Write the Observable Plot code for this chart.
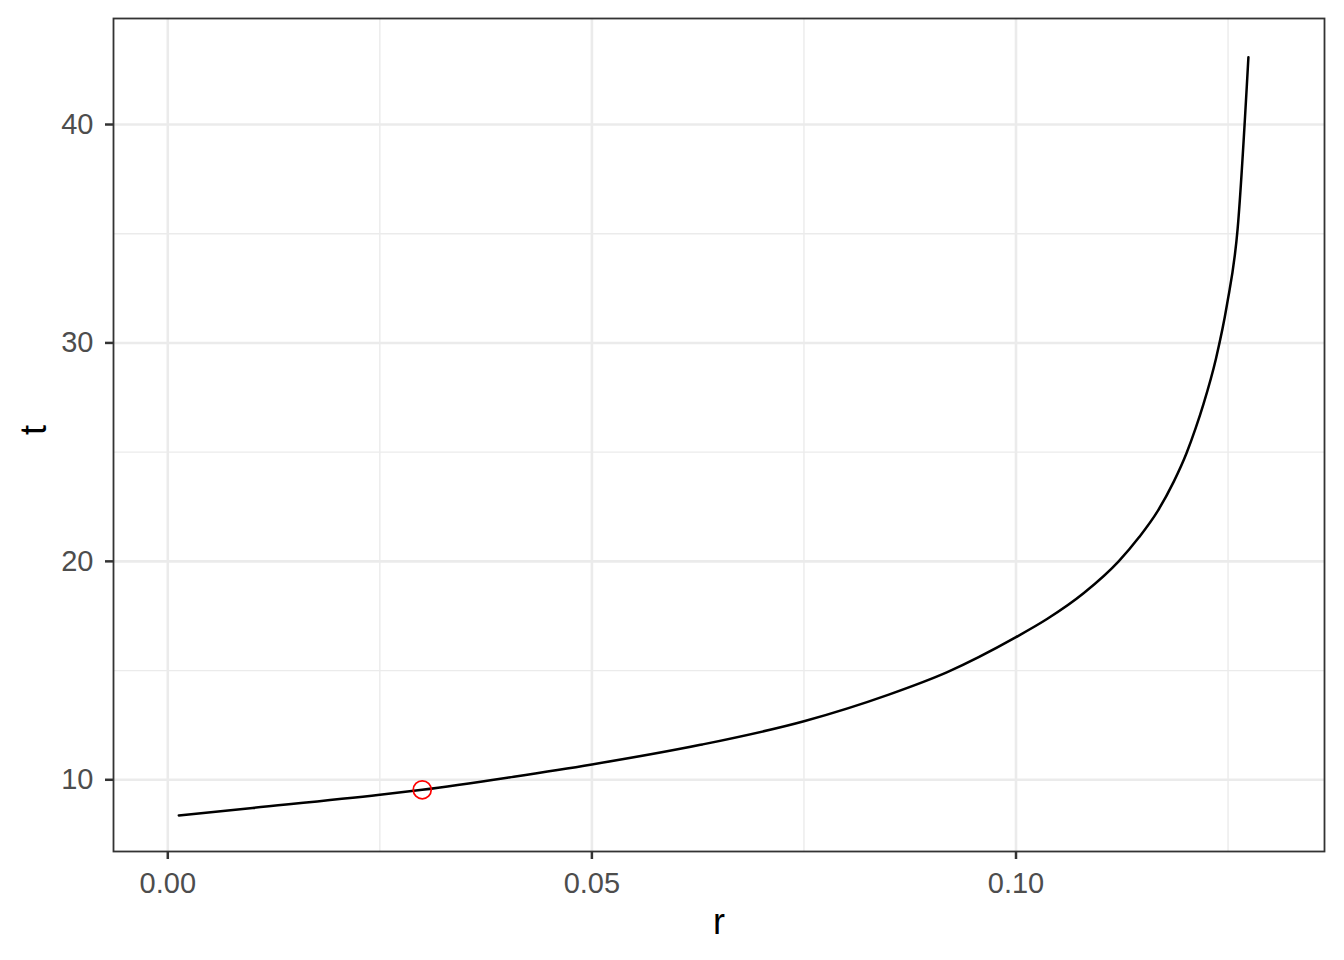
<!DOCTYPE html>
<html>
<head>
<meta charset="utf-8">
<script src="https://cdn.jsdelivr.net/npm/d3@7"></script>
<script src="https://cdn.jsdelivr.net/npm/@observablehq/plot@0.6"></script>
<style>
  body { margin: 0; background: #ffffff; }
  svg { font-family: "Liberation Sans", Arial, Helvetica, sans-serif; }
</style>
</head>
<body>
<div id="chart"></div>
<script>
// Curve values
const rValues = [0.0013, 0.0100, 0.0250, 0.0300, 0.0408, 0.0500, 0.0628, 0.0750, 0.0850, 0.0919,
                 0.1000, 0.1037, 0.1080, 0.1121, 0.1145, 0.1167, 0.1186, 0.1201, 0.1212, 0.1221,
                 0.12358, 0.12485, 0.12613, 0.1274];
const tValues = [8.37, 8.71, 9.31, 9.54, 10.14, 10.70, 11.60, 12.68, 13.90, 14.93,
                 16.53, 17.37, 18.55, 20.00, 21.10, 22.30, 23.65, 24.95, 26.12, 27.20,
                 29.29, 31.70, 35.23, 43.08];

// Highlighted point
const highlightR = [0.03];
const highlightT = [9.54];

// Axis breaks
const xMajor = [0, 0.05, 0.10];
const xMinor = [0.025, 0.075, 0.125];
const yMajor = [10, 20, 30, 40];
const yMinor = [15, 25, 35];

const curve = rValues.map((r, i) => ({r, t: tValues[i]}));
const point = highlightR.map((r, i) => ({r, t: highlightT[i]}));

const chart = Plot.plot({
  width: 1344,
  height: 960,
  marginLeft: 113,
  marginRight: 20,
  marginTop: 18,
  marginBottom: 109,
  x: {domain: [-0.0064, 0.13637]},
  y: {domain: [6.717, 44.853]},
  style: {background: "#ffffff", fontFamily: "'Liberation Sans', Arial, Helvetica, sans-serif"},
  marks: [
    Plot.ruleX(xMinor, {stroke: "#ebebeb", strokeWidth: 1.4}),
    Plot.ruleY(yMinor, {stroke: "#ebebeb", strokeWidth: 1.4}),
    Plot.ruleX(xMajor, {stroke: "#ebebeb", strokeWidth: 2.6}),
    Plot.ruleY(yMajor, {stroke: "#ebebeb", strokeWidth: 2.6}),
    Plot.line(curve, {x: "r", y: "t", stroke: "#000000", strokeWidth: 2.5, curve: "monotone-x"}),
    Plot.dot(point, {x: "r", y: "t", r: 9, stroke: "#ff0000", strokeWidth: 1.7, fill: "none"}),
    Plot.frame({stroke: "#333333", strokeWidth: 1.8}),
    Plot.axisX(xMajor, {tickSize: 8, tickPadding: 13, tickFormat: d3.format(".2f"), fontSize: 29,
                        fill: "#4d4d4d", stroke: "#333333", strokeWidth: 2.5, label: null}),
    Plot.axisY(yMajor, {tickSize: 8, tickPadding: 12, tickFormat: d3.format("d"), fontSize: 29,
                        fill: "#4d4d4d", stroke: "#333333", strokeWidth: 2.5, label: null}),
    Plot.text(["r"], {text: d => d, frameAnchor: "bottom", dy: 82, fontSize: 36, fill: "#000000"}),
    Plot.text(["t"], {text: d => d, frameAnchor: "left", dx: -79, rotate: -90, fontSize: 36, fill: "#000000"})
  ]
});

document.getElementById("chart").appendChild(chart);
</script>
</body>
</html>
